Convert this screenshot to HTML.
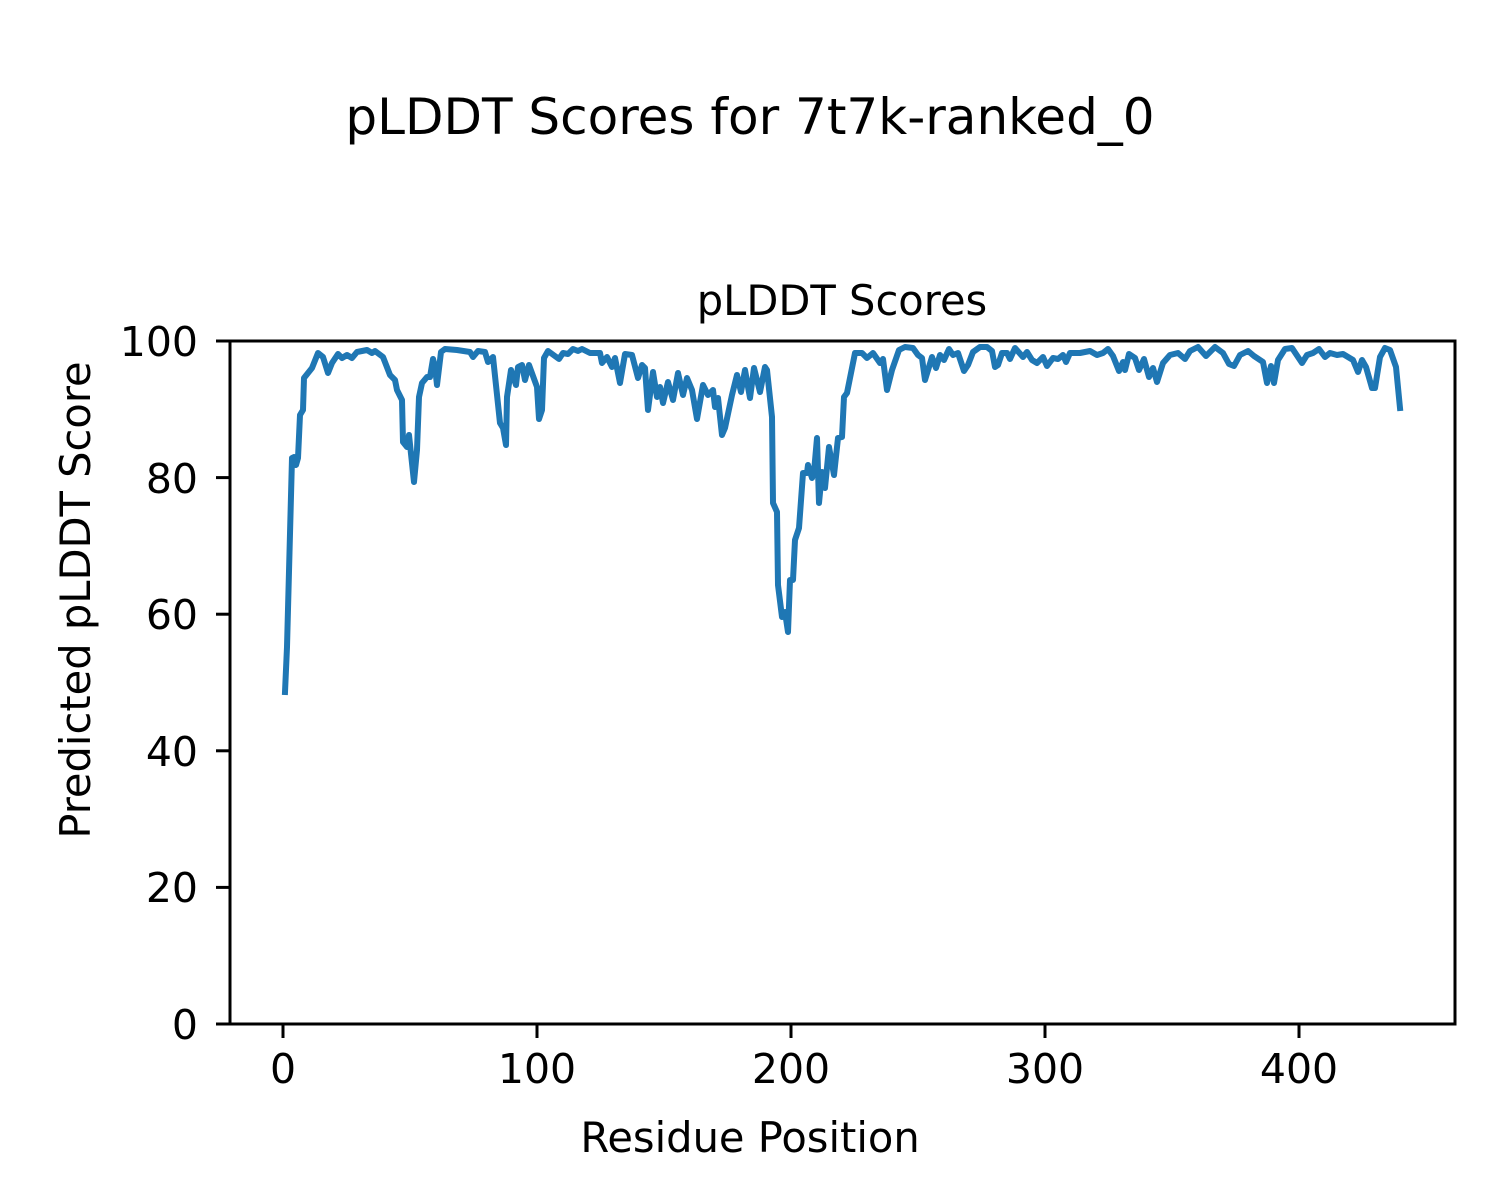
<!DOCTYPE html>
<html><head><meta charset="utf-8"><style>
html,body{margin:0;padding:0;background:#fff}
svg{display:block}
text{font-family:"DejaVu Sans","Liberation Sans",sans-serif;fill:#000}
</style></head><body>
<svg width="1500" height="1200" viewBox="0 0 1500 1200" xmlns="http://www.w3.org/2000/svg">
<rect width="1500" height="1200" fill="#fff"/>
<text x="750" y="134" font-size="50" text-anchor="middle">pLDDT Scores for 7t7k-ranked_0</text>
<text x="842" y="315" font-size="41.6" text-anchor="middle">pLDDT Scores</text>
<polyline fill="none" stroke="#1f77b4" stroke-width="6" stroke-linejoin="round" stroke-linecap="square" points="
285,692 287,647 292,458 294,457 296,465 298,458 300,415 303,410 304,378 312,368 318,353 323,357 328,373 332,363 338,354 342,358 347,355 352,358 357,352 367,350 372,353 375,351 383,357 390,375 395,380 397,390 402,400 403,442 407,447 409,435 414,482 417,450 419,397 422,383 427,377 430,377 433,359 435,367 437,385 441,352 445,349 457,350 470,352 473,357 478,351 485,352 488,362 493,357 500,423 503,428 506,445 507,397 511,370 516,385 518,367 522,365 525,380 529,365 537,387 539,419 542,410 544,358 548,351 559,359 563,353 568,354 573,349 578,351 582,349 590,353 600,353 602,363 607,357 612,367 615,358 620,383 625,354 632,355 638,378 642,365 645,368 648,410 653,372 657,397 660,387 663,403 668,382 673,400 678,373 683,395 687,378 692,390 697,419 703,385 708,395 713,390 715,407 718,398 722,435 725,428 732,395 737,375 741,392 745,370 750,398 754,368 760,392 765,367 767,370 772,417 773,503 777,512 778,585 782,617 785,612 788,632 790,580 793,580 795,540 799,528 803,473 807,473 808,465 812,478 814,472 817,438 819,503 822,472 825,488 829,447 834,475 838,438 842,437 844,397 847,393 855,353 862,353 867,358 873,353 880,363 883,359 887,390 892,370 899,350 905,347 913,348 918,355 922,358 925,380 932,357 936,368 940,355 944,360 949,349 953,355 958,353 964,371 968,365 973,352 980,347 987,347 992,351 995,367 998,365 1002,353 1007,353 1010,359 1015,348 1023,357 1027,352 1032,360 1037,363 1043,357 1047,366 1053,358 1058,359 1063,355 1066,362 1070,353 1080,353 1090,351 1097,355 1103,353 1108,349 1113,356 1119,371 1123,362 1125,370 1129,354 1135,358 1139,370 1144,359 1149,377 1153,368 1157,382 1163,363 1170,355 1178,353 1185,359 1190,351 1198,347 1206,356 1215,347 1223,353 1229,364 1234,366 1240,355 1248,351 1254,356 1260,360 1263,362 1267,383 1271,366 1274,383 1278,360 1285,349 1292,348 1298,357 1302,363 1307,355 1313,353 1319,349 1325,357 1330,353 1337,355 1343,354 1348,357 1353,360 1358,372 1362,360 1366,367 1372,388 1375,388 1380,357 1385,348 1390,350 1396,367 1400,408"/>
<rect x="230" y="341" width="1225" height="683" fill="none" stroke="#000" stroke-width="3"/>
<g stroke="#000" stroke-width="3">
<line x1="283" y1="1024" x2="283" y2="1038"/>
<line x1="537" y1="1024" x2="537" y2="1038"/>
<line x1="791" y1="1024" x2="791" y2="1038"/>
<line x1="1045" y1="1024" x2="1045" y2="1038"/>
<line x1="1299" y1="1024" x2="1299" y2="1038"/>
<line x1="216" y1="1024" x2="230" y2="1024"/>
<line x1="216" y1="887.4" x2="230" y2="887.4"/>
<line x1="216" y1="750.8" x2="230" y2="750.8"/>
<line x1="216" y1="614.2" x2="230" y2="614.2"/>
<line x1="216" y1="477.6" x2="230" y2="477.6"/>
<line x1="216" y1="341" x2="230" y2="341"/>
</g>
<g font-size="41" text-anchor="middle">
<text x="283" y="1083">0</text>
<text x="537" y="1083">100</text>
<text x="791" y="1083">200</text>
<text x="1045" y="1083">300</text>
<text x="1299" y="1083">400</text>
</g>
<g font-size="41" text-anchor="end">
<text x="198" y="1039">0</text>
<text x="198" y="902">20</text>
<text x="198" y="766">40</text>
<text x="198" y="629">60</text>
<text x="198" y="493">80</text>
<text x="198" y="356">100</text>
</g>
<text x="750" y="1152" font-size="41.6" text-anchor="middle">Residue Position</text>
<text transform="translate(90,600) rotate(-90)" font-size="41.6" text-anchor="middle">Predicted pLDDT Score</text>
</svg>
</body></html>
